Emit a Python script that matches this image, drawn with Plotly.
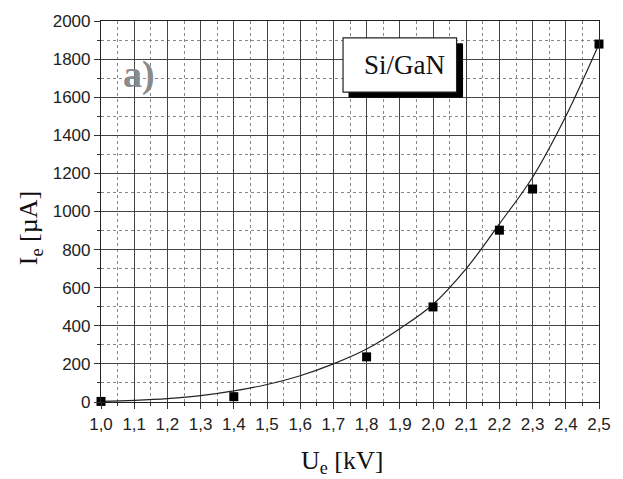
import plotly.graph_objects as go

# measured points
U_meas = [1.0, 1.4, 1.8, 2.0, 2.2, 2.3, 2.5]
I_meas = [3, 28, 237, 499, 902, 1118, 1879]

# fitted curve
U_fit = [1.0, 1.1, 1.2, 1.3, 1.4, 1.5, 1.6, 1.7, 1.8, 1.9, 2.0, 2.1, 2.2, 2.3, 2.4, 2.5]
I_fit = [3, 9, 18, 33, 58, 92, 138, 200, 278, 385, 512, 700, 935, 1180, 1500, 1879]

x_ticks = [1.0, 1.1, 1.2, 1.3, 1.4, 1.5, 1.6, 1.7, 1.8, 1.9, 2.0, 2.1, 2.2, 2.3, 2.4, 2.5]
x_tick_text = ["1,0", "1,1", "1,2", "1,3", "1,4", "1,5", "1,6", "1,7", "1,8", "1,9",
               "2,0", "2,1", "2,2", "2,3", "2,4", "2,5"]
y_ticks = [0, 200, 400, 600, 800, 1000, 1200, 1400, 1600, 1800, 2000]

fig = go.Figure()
fig.add_trace(go.Scatter(x=U_fit, y=I_fit, mode="lines",
                         line=dict(color="#222222", width=1.2, shape="spline"),
                         showlegend=False, hoverinfo="skip"))
fig.add_trace(go.Scatter(x=U_meas, y=I_meas, mode="markers",
                         marker=dict(symbol="square", size=9, color="black"),
                         showlegend=False, cliponaxis=False))

tick_font = dict(family="Liberation Sans, Arial", size=17, color="#222222")
axis_common = dict(showline=True, linecolor="#222222", linewidth=1.2, mirror=True,
                   showgrid=True, gridcolor="#444444", gridwidth=1.2,
                   ticks="outside", ticklen=6, tickcolor="#333333", tickwidth=1,
                   zeroline=False, tickfont=tick_font)

fig.update_xaxes(range=[1.0, 2.5], tickvals=x_ticks, ticktext=x_tick_text,
                 minor=dict(dtick=0.05, showgrid=True, gridcolor="#888888",
                            griddash="dot", gridwidth=1, ticks="outside",
                            ticklen=3, tickcolor="#333333"),
                 **axis_common)
fig.update_yaxes(range=[0, 2000], tickvals=y_ticks,
                 minor=dict(dtick=100, showgrid=True, gridcolor="#888888",
                            griddash="dot", gridwidth=1, ticks="outside",
                            ticklen=3, tickcolor="#333333"),
                 **axis_common)

# legend-like box with shadow
fig.add_shape(type="rect", xref="x", yref="y", x0=1.747, x1=2.089, y0=1600, y1=1880,
              fillcolor="black", line=dict(color="black", width=1), layer="above")
fig.add_shape(type="rect", xref="x", yref="y", x0=1.729, x1=2.071, y0=1627, y1=1911,
              fillcolor="white", line=dict(color="#222222", width=1.2), layer="above")
fig.add_annotation(x=1.914, y=1769, xref="x", yref="y", text="Si/GaN", showarrow=False,
                   xanchor="center", yanchor="middle",
                   font=dict(family="Liberation Serif, Times New Roman", size=27, color="#111111"))

fig.add_annotation(x=0.077, y=0.86, xref="paper", yref="paper", text="<b>a)</b>",
                   showarrow=False, xanchor="center", yanchor="middle",
                   font=dict(family="Liberation Serif, Times New Roman", size=38, color="#8a8a8a"))

fig.add_annotation(x=0.484, y=-0.158, xref="paper", yref="paper",
                   text="U<sub>e</sub> [kV]", showarrow=False,
                   xanchor="center", yanchor="middle",
                   font=dict(family="Liberation Serif, Times New Roman", size=26, color="#111111"))
fig.add_annotation(x=-0.142, y=0.457, xref="paper", yref="paper",
                   text="I<sub>e</sub> [µA]", showarrow=False, textangle=-90,
                   xanchor="center", yanchor="middle",
                   font=dict(family="Liberation Serif, Times New Roman", size=26, color="#111111"))

fig.update_layout(width=623, height=479, margin=dict(l=101, r=18, t=21, b=77),
                  paper_bgcolor="white", plot_bgcolor="white")

fig.write_html("out.html")
